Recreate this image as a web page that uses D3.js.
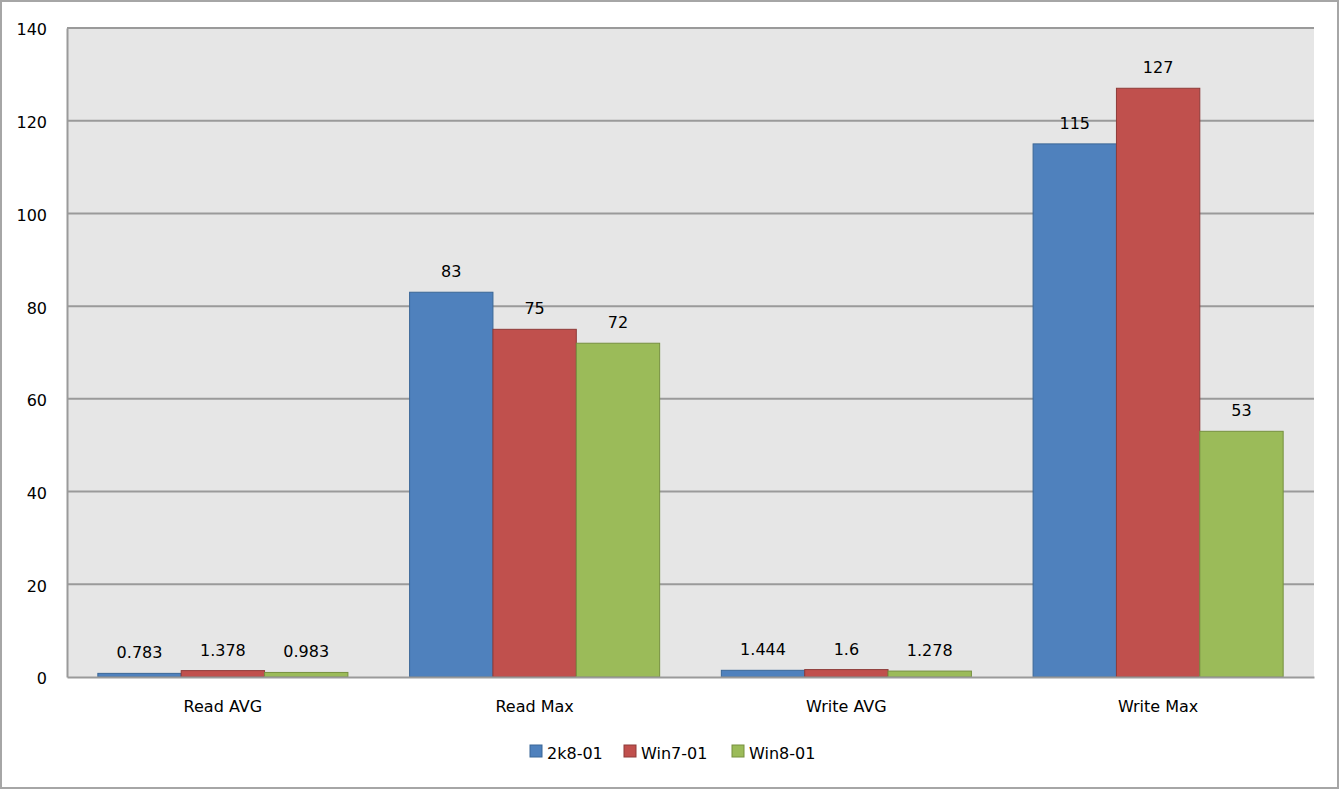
<!DOCTYPE html>
<html><head><meta charset="utf-8">
<script src="https://cdn.jsdelivr.net/npm/d3@7"></script>
<style>html,body{margin:0;padding:0;background:#fff;}svg{display:block;font-family:"DejaVu Sans",sans-serif;}</style>
</head><body>
<svg id="c" width="1342" height="790"></svg>
<script>
const categories = ["Read AVG", "Read Max", "Write AVG", "Write Max"];
const seriesNames = ["2k8-01", "Win7-01", "Win8-01"];
const s2k8 = [0.783, 83, 1.444, 115];
const sWin7 = [1.378, 75, 1.6, 127];
const sWin8 = [0.983, 72, 1.278, 53];
const yTicks = [0, 20, 40, 60, 80, 100, 120, 140];
const fills = ["#4f81bd", "#c0504d", "#9bbb59"];
const strokes = ["#3b6797", "#8e3b39", "#76903f"];

const seriesVals = [s2k8, sWin7, sWin8];
const svg = d3.select("#c");
const L = 67, R = 1314, T = 28, B = 677;

svg.append("rect").attr("x",1).attr("y",1).attr("width",1337).attr("height",787)
  .attr("fill","#fff").attr("stroke","#a6a6a6").attr("stroke-width",2);

svg.append("rect").attr("x",L).attr("y",T).attr("width",R-L).attr("height",B-T).attr("fill","#e6e6e6");

const x0 = d3.scaleBand().domain(categories).range([L,R]).paddingInner(0).paddingOuter(0);
const x1 = d3.scaleBand().domain(seriesNames).range([0,x0.bandwidth()]).paddingInner(0).paddingOuter(0.37);
const y = d3.scaleLinear().domain([0,140]).range([B,T]);

// grid
svg.append("g").selectAll("line").data(yTicks.filter(t=>t>0)).join("line")
  .attr("x1",L).attr("x2",R).attr("y1",d=>y(d)).attr("y2",d=>y(d))
  .attr("stroke","#9a9a9a").attr("stroke-width",2);

// y axis
const yAxis = d3.axisLeft(y).tickValues(yTicks).tickSize(0).tickPadding(20).tickFormat(d3.format("d"));
const gy = svg.append("g").attr("transform",`translate(${L},0)`).call(yAxis);
gy.select(".domain").attr("stroke","#9a9a9a").attr("stroke-width",2);
gy.selectAll("text").attr("font-size",16).attr("fill","#000").attr("font-family","DejaVu Sans").attr("dy","0.62em").attr("y",-3);

// bars
const groups = svg.append("g").selectAll("g").data(categories).join("g")
  .attr("transform",d=>`translate(${x0(d)},0)`);
groups.each(function(cat,ci){
  const g = d3.select(this);
  const data = seriesNames.map((s,si)=>({s,si,v:seriesVals[si][ci]}));
  g.selectAll("rect").data(data).join("rect")
    .attr("x",d=>x1(d.s)).attr("width",x1.bandwidth())
    .attr("y",d=>y(d.v)).attr("height",d=>Math.max(0,B-y(d.v)))
    .attr("fill",d=>fills[d.si]).attr("stroke",d=>strokes[d.si]).attr("stroke-width",1);
  g.selectAll("text").data(data).join("text")
    .attr("x",d=>x1(d.s)+x1.bandwidth()/2).attr("y",d=>y(d.v)-15)
    .attr("text-anchor","middle").attr("font-size",16).attr("fill","#000")
    .text(d=>String(d.v));
});

// x axis
const xAxis = d3.axisBottom(x0).tickSize(0).tickPadding(0);
const gx = svg.append("g").attr("transform",`translate(0,${B})`).call(xAxis);
gx.select(".domain").attr("stroke","#9a9a9a").attr("stroke-width",2);
gx.selectAll("text").attr("font-size",16).attr("fill","#000").attr("font-family","DejaVu Sans").attr("dy",null).attr("y",35);

// legend
const legX = [530, 624, 732];
const leg = svg.append("g").selectAll("g").data(seriesNames).join("g")
  .attr("transform",(d,i)=>`translate(${legX[i]},745)`);
leg.append("rect").attr("width",12).attr("height",12)
  .attr("fill",(d,i)=>fills[i]).attr("stroke",(d,i)=>strokes[i]).attr("stroke-width",1);
leg.append("text").attr("x",17).attr("y",14).attr("font-size",16).attr("fill","#000").text(d=>d);
</script>
</body></html>
